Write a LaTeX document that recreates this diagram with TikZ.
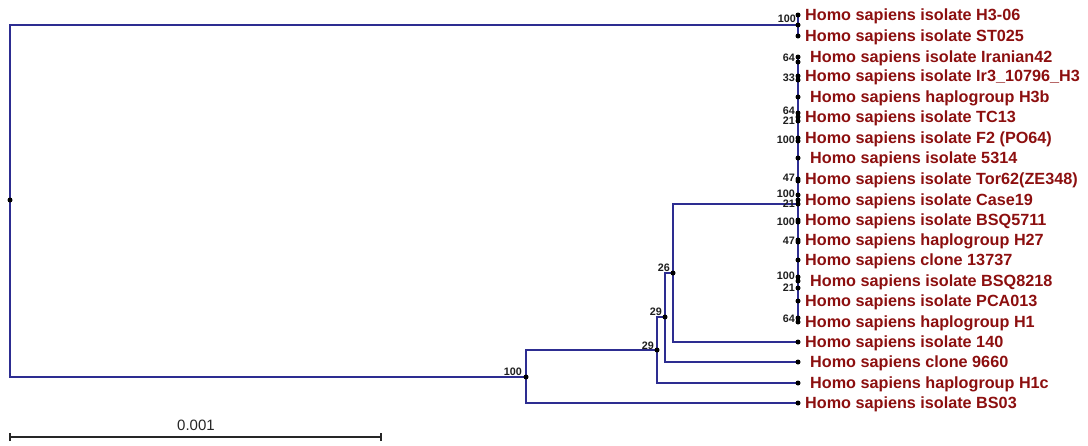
\documentclass[tikz,border=0pt]{standalone}
\usepackage{fontspec}
\setmainfont{Liberation Sans}
\definecolor{navy}{RGB}{45,45,145}
\definecolor{leafred}{RGB}{140,15,15}
\definecolor{bsgray}{RGB}{30,30,30}
\begin{document}
\begin{tikzpicture}[x=1pt,y=-1pt,
  br/.style={draw=navy, line width=1.4pt},
  dot/.style={circle, fill=black, inner sep=0pt, minimum size=5pt},
  leaf/.style={anchor=west, inner sep=0pt, text=leafred, font=\fontsize{16.2}{18}\selectfont\bfseries},
  bs/.style={anchor=east, inner sep=0pt, text=bsgray, font=\fontsize{10.8}{11}\selectfont\bfseries},
  scl/.style={draw=black!85, line width=1.2pt}]
\useasboundingbox (0,0) rectangle (1088,445);
% internal nodes
\coordinate (r) at (10,200);
\coordinate (nA) at (798,25);
\coordinate (nB) at (526,377);
\coordinate (nC) at (657,350);
\coordinate (nD) at (665,317);
\coordinate (nE) at (673,273);
\coordinate (nF) at (798,204);
\coordinate (cTop) at (798,57);
\coordinate (cBot) at (798,322);
% dense clade internal nodes
\coordinate (i1) at (798,62);
\coordinate (i2) at (798,80);
\coordinate (i3) at (798,113);
\coordinate (i4) at (798,121);
\coordinate (i5) at (798,141);
\coordinate (i6) at (798,181);
\coordinate (i7) at (798,195);
\coordinate (i8) at (798,222);
\coordinate (i9) at (798,242);
\coordinate (i10) at (798,277);
\coordinate (i11) at (798,288);
\coordinate (i12) at (798,318);
% leaves
\coordinate (l1) at (798,15);
\coordinate (l2) at (798,36);
\coordinate (l3) at (798,57);
\coordinate (l4) at (798,76);
\coordinate (l5) at (798,97);
\coordinate (l6) at (798,117);
\coordinate (l7) at (798,138);
\coordinate (l8) at (798,158);
\coordinate (l9) at (798,179);
\coordinate (l10) at (798,200);
\coordinate (l11) at (798,220);
\coordinate (l12) at (798,240);
\coordinate (l13) at (798,260);
\coordinate (l14) at (798,281);
\coordinate (l15) at (798,301);
\coordinate (l16) at (798,322);
\coordinate (l17) at (798,342);
\coordinate (l18) at (798,362);
\coordinate (l19) at (798,383);
\coordinate (l20) at (798,403);
% branches
\draw[br] (r) |- (nA);
\draw[br] (r) |- (nB);
\draw[br] (nA) |- (l1);
\draw[br] (nA) |- (l2);
\draw[br] (nB) |- (nC);
\draw[br] (nB) |- (l20);
\draw[br] (nC) |- (nD);
\draw[br] (nC) |- (l19);
\draw[br] (nD) |- (nE);
\draw[br] (nD) |- (l18);
\draw[br] (nE) |- (nF);
\draw[br] (nE) |- (l17);
\draw[br] (cTop) -- (cBot);
% dots
\foreach \c in {r,nA,nB,nC,nD,nE,nF,i1,i2,i3,i4,i5,i6,i7,i8,i9,i10,i11,i12,
  l1,l2,l3,l4,l5,l6,l7,l8,l9,l10,l11,l12,l13,l14,l15,l16,l17,l18,l19,l20}
  \node[dot] at (\c) {};
% bootstrap labels
\node[bs] (bA) at (796,19) {100};
\node[bs] (bB) at (522,372) {100};
\node[bs] (bC) at (654,346) {29};
\node[bs] (bD) at (662,312) {29};
\node[bs] (bE) at (670,268) {26};
\node[bs] (b1) at (795,58) {64};
\node[bs] (b2) at (795,78) {33};
\node[bs] (b3) at (795,111) {64};
\node[bs] (b4) at (795,121) {21};
\node[bs] (b5) at (795,140) {100};
\node[bs] (b6) at (795,178) {47};
\node[bs] (b7) at (795,194) {100};
\node[bs] (b8) at (795,204) {21};
\node[bs] (b9) at (795,222) {100};
\node[bs] (b10) at (795,241) {47};
\node[bs] (b11) at (795,276) {100};
\node[bs] (b12) at (795,288) {21};
\node[bs] (b13) at (795,319) {64};
% leaf labels
\node[leaf] (t1) at (805,16) {Homo sapiens isolate H3-06};
\node[leaf] (t2) at (805,37) {Homo sapiens isolate ST025};
\node[leaf] (t3) at (810,58) {Homo sapiens isolate Iranian42};
\node[leaf] (t4) at (805,77) {Homo sapiens isolate Ir3\_10796\_H3};
\node[leaf] (t5) at (810,98) {Homo sapiens haplogroup H3b};
\node[leaf] (t6) at (805,118) {Homo sapiens isolate TC13};
\node[leaf] (t7) at (805,139) {Homo sapiens isolate F2 (PO64)};
\node[leaf] (t8) at (810,159) {Homo sapiens isolate 5314};
\node[leaf] (t9) at (805,180) {Homo sapiens isolate Tor62(ZE348)};
\node[leaf] (t10) at (805,201) {Homo sapiens isolate Case19};
\node[leaf] (t11) at (805,221) {Homo sapiens isolate BSQ5711};
\node[leaf] (t12) at (805,241) {Homo sapiens haplogroup H27};
\node[leaf] (t13) at (805,261) {Homo sapiens clone 13737};
\node[leaf] (t14) at (810,282) {Homo sapiens isolate BSQ8218};
\node[leaf] (t15) at (805,302) {Homo sapiens isolate PCA013};
\node[leaf] (t16) at (805,323) {Homo sapiens haplogroup H1};
\node[leaf] (t17) at (805,343) {Homo sapiens isolate 140};
\node[leaf] (t18) at (810,363) {Homo sapiens clone 9660};
\node[leaf] (t19) at (810,384) {Homo sapiens haplogroup H1c};
\node[leaf] (t20) at (805,404) {Homo sapiens isolate BS03};
% scale bar
\coordinate (s0) at (10,437);
\coordinate (s1) at (381,437);
\draw[scl] (s0) -- (s1);
\draw[scl] ([yshift=-4pt]s0) -- ([yshift=4pt]s0);
\draw[scl] ([yshift=-4pt]s1) -- ([yshift=4pt]s1);
\node[inner sep=0pt, text=black!85, font=\fontsize{15}{16}\selectfont] (sl) at (196,425) {0.001};
\end{tikzpicture}
\end{document}
